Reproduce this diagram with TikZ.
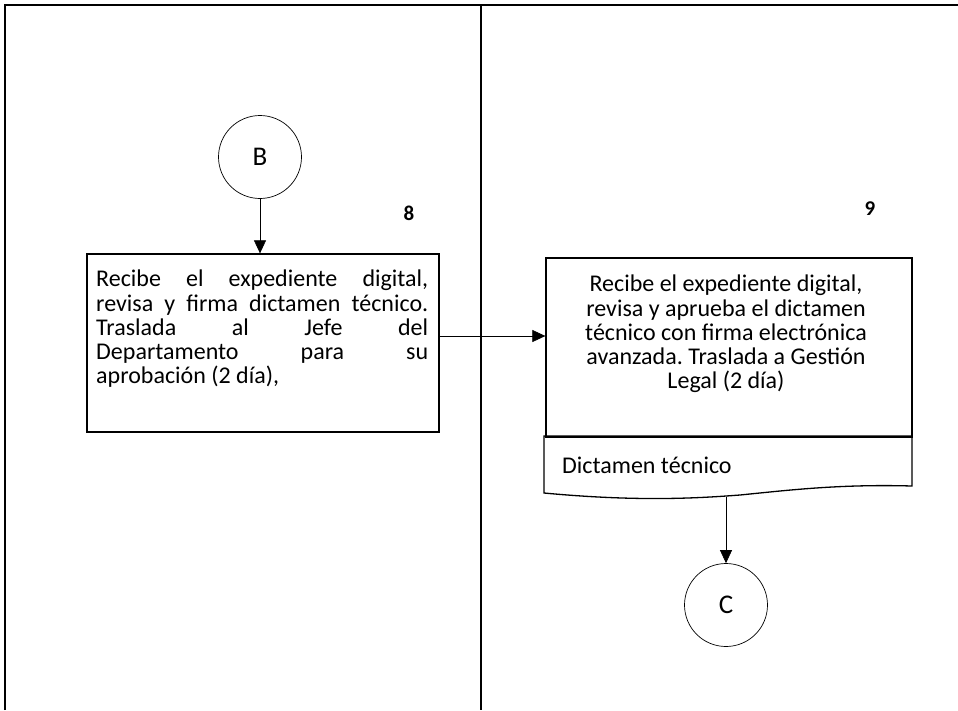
\documentclass[tikz,border=0pt]{standalone}
\usepackage{fontspec}
\setmainfont{Carlito}
\usetikzlibrary{arrows.meta}
\frenchspacing
\begin{document}
\begin{tikzpicture}[x=1pt,y=-1pt,
  frame/.style={line width=1.8pt},
  procbox/.style={draw, line width=1.3pt, rectangle, inner sep=0pt},
  conn/.style={draw, line width=0.7pt, circle, inner sep=0pt, minimum size=83pt, font=\fontsize{27}{28}\selectfont},
  arr/.style={line width=0.6pt, -{Triangle[length=13pt,width=12pt]}},
  txt/.style={font=\fontsize{24}{24.2}\selectfont, inner sep=0pt},
  num/.style={font=\fontsize{21}{22}\selectfont\bfseries, inner sep=0pt}]
\useasboundingbox (0,0) rectangle (958,710);
% frame
\draw[frame] (5,710) -- (5,5) -- (958,5);
\draw[frame] (481,5) -- (481,710);
% connector B
\node[conn] (B) at (260,157) {B};
\node[num] (n8) at (409,213) {8};
% box 8
\node[procbox, minimum width=352pt, minimum height=178pt] (b8) at (263,343) {};
\node[txt, anchor=north west, align=left] (t8) at (96,270) {%
\makebox[332pt][s]{Recibe el expediente digital,}\\
\makebox[332pt][s]{revisa y firma dictamen técnico.}\\
\makebox[332pt][s]{Traslada al Jefe del}\\
\makebox[332pt][s]{Departamento para su}\\
aprobación (2 día),};
\draw[arr] (B.south) -- (B.south |- b8.north);
% box 9
\node[num] (n9) at (870,209) {9};
\node[procbox, minimum width=366pt, minimum height=179pt] (b9) at (729,347.5) {};
\node[txt, anchor=north, align=center] (t9) at (726,275) {%
Recibe el expediente digital,\\
revisa y aprueba el dictamen\\
técnico con firma electrónica\\
avanzada. Traslada a Gestión\\
Legal (2 día)};
\draw[arr] ([yshift=7pt]b8.east) -- ([yshift=7pt]b8.east -| b9.west);
% document shape
\draw[line width=1.3pt, line join=miter] (544,436) -- (912,436) -- (912,486)
  .. controls (840,484) and (790,490) .. (740,495)
  .. controls (700,498) and (640,502) .. (544,493) -- cycle;
\node[txt, anchor=west] (dt) at (562,465) {Dictamen técnico};
\coordinate (docb) at (726,496.5);
% connector C
\node[conn] (C) at (726,605) {C};
\draw[arr] (docb) -- (C.north);
\end{tikzpicture}
\end{document}
